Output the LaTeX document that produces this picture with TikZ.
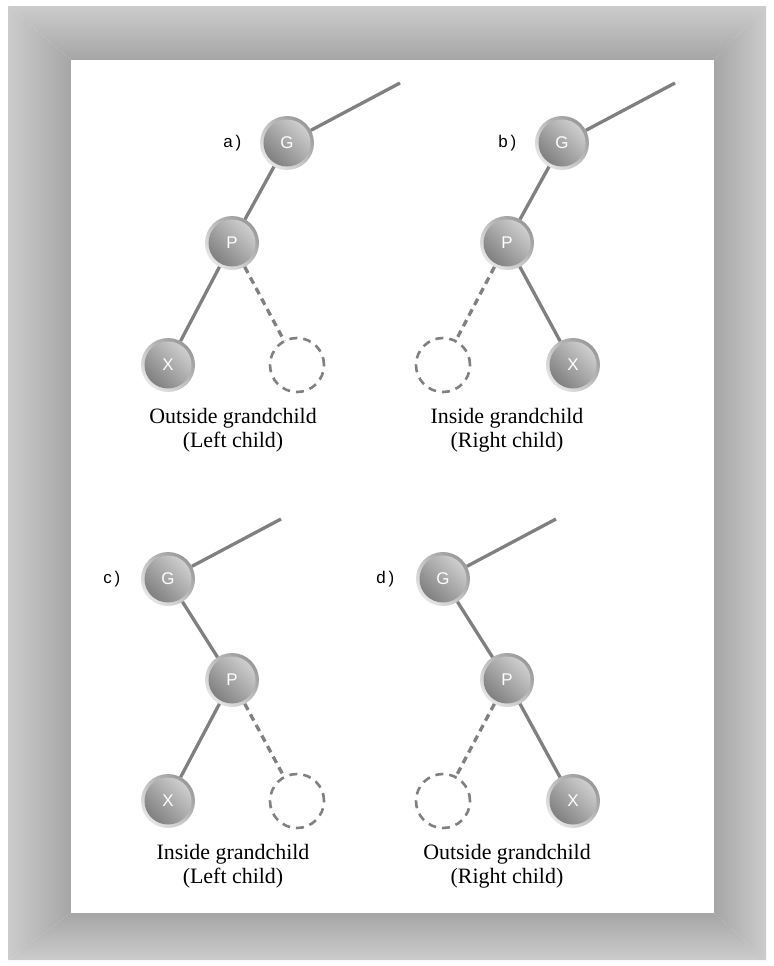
\documentclass[tikz,border=0pt]{standalone}
\usepackage{fontspec}
\setmainfont{Liberation Serif}
\newfontfamily\tagfont{Liberation Sans}
\usepackage{tikz}
\usetikzlibrary{positioning}

\begin{document}
\begin{tikzpicture}[x=1bp, y=-1bp, line width=3.3bp,
    full/.style={circle, minimum size=54bp, inner sep=0pt, outer sep=0pt,
        left color=black!10, right color=black!40, shading angle=135,
        path picture={\shade[left color=black!52, right color=black!17, shading angle=135]
            (path picture bounding box.center) circle (23.5bp);},
        text=white, font=\tagfont\fontsize{17}{17}\selectfont},
    hole/.style={circle, minimum size=54bp, inner sep=0pt, outer sep=0pt,
        draw=black!50, line width=2.6bp, dash pattern=on 8bp off 6bp},
    edge/.style={draw=black!50},
    gap/.style={draw=black!50, dash pattern=on 7bp off 5bp},
    tag/.style={inner sep=0pt, font=\tagfont\fontsize{17}{17}\selectfont},
    legend/.style={align=center, inner sep=0pt, font=\fontsize{22}{24.5}\selectfont}]
  \useasboundingbox (0,0) rectangle (774,966);
  % frame
  \shade[top color=black!20, bottom color=black!35] (8,6) -- (766,6) -- (714,60) -- (71,60) -- cycle;
  \shade[left color=black!20, right color=black!35] (8,6) -- (71,60) -- (71,913) -- (8,960) -- cycle;
  \shade[left color=black!35, right color=black!20] (766,6) -- (714,60) -- (714,913) -- (766,960) -- cycle;
  \shade[top color=black!35, bottom color=black!20] (8,960) -- (71,913) -- (714,913) -- (766,960) -- cycle;
  \fill[white] (71,60) rectangle (714,913);

  % a) outside grandchild, left
  \node[full] (Ga) at (287,143) {G};
  \node[full] (Pa) at (232,243) {P};
  \node[full] (Xa) at (168,365) {X};
  \node[hole] (Ea) at (297,365) {};
  \coordinate (ta) at (400,83);
  \draw[edge] (Ga) -- (ta);
  \draw[edge] (Ga) -- (Pa);
  \draw[edge] (Pa) -- (Xa);
  \draw[gap] (Pa) -- (Ea);
  \node[tag, left=17bp of Ga] (la) {a\,)};
  \node[legend] (ca) at (233,430) {Outside grandchild\\(Left child)};

  % b) inside grandchild, right
  \node[full] (Gb) at (562,143) {G};
  \node[full] (Pb) at (507,243) {P};
  \node[full] (Xb) at (573,365) {X};
  \node[hole] (Eb) at (443,365) {};
  \coordinate (tb) at (675,83);
  \draw[edge] (Gb) -- (tb);
  \draw[edge] (Gb) -- (Pb);
  \draw[edge] (Pb) -- (Xb);
  \draw[gap] (Pb) -- (Eb);
  \node[tag, left=17bp of Gb] (lb) {b\,)};
  \node[legend] (cb) at (507,430) {Inside grandchild\\(Right child)};

  % c) inside grandchild, left
  \node[full] (Gc) at (168,579) {G};
  \node[full] (Pc) at (232,680) {P};
  \node[full] (Xc) at (168,801) {X};
  \node[hole] (Ec) at (297,801) {};
  \coordinate (tc) at (281,519);
  \draw[edge] (Gc) -- (tc);
  \draw[edge] (Gc) -- (Pc);
  \draw[edge] (Pc) -- (Xc);
  \draw[gap] (Pc) -- (Ec);
  \node[tag, left=19bp of Gc] (lc) {c\,)};
  \node[legend] (cc) at (233,866) {Inside grandchild\\(Left child)};

  % d) outside grandchild, right
  \node[full] (Gd) at (443,579) {G};
  \node[full] (Pd) at (507,680) {P};
  \node[full] (Xd) at (573,801) {X};
  \node[hole] (Ed) at (443,801) {};
  \coordinate (td) at (556,519);
  \draw[edge] (Gd) -- (td);
  \draw[edge] (Gd) -- (Pd);
  \draw[edge] (Pd) -- (Xd);
  \draw[gap] (Pd) -- (Ed);
  \node[tag, left=20bp of Gd] (ld) {d\,)};
  \node[legend] (cd) at (507,866) {Outside grandchild\\(Right child)};
\end{tikzpicture}
\end{document}
